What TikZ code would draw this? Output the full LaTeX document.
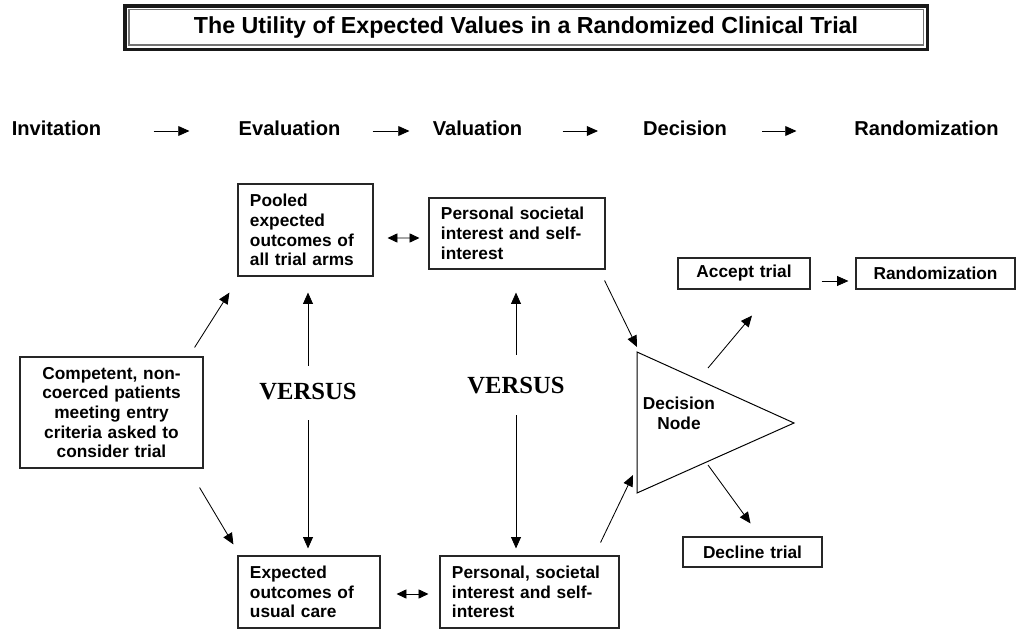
\documentclass[tikz,border=0pt]{standalone}
\usepackage{fontspec}
\setmainfont{Liberation Sans}
\newfontfamily\versusfont{Liberation Serif}
\usetikzlibrary{arrows.meta}

\begin{document}
\begin{tikzpicture}[x=0.025cm,y=-0.025cm,
	box/.style={draw=black!85,line width=0.8pt,inner xsep=0.3cm,inner ysep=0pt,align=left,
		font=\bfseries\fontsize{12.3}{14}\selectfont},
	hdr/.style={inner sep=0pt,font=\bfseries\fontsize{14.3}{17}\selectfont},
	vs/.style={inner sep=0pt,font=\versusfont\bfseries\fontsize{17.5}{20}\selectfont},
	arr/.style={-{Triangle[length=8pt,width=7pt]},line width=0.6pt},
	darr/.style={{Triangle[length=7pt,width=6.5pt]}-{Triangle[length=7pt,width=6.5pt]},line width=0.6pt}]
	\useasboundingbox (0,0) rectangle (1016,629);
	% title frame
	\draw[line width=2.5pt,black!90](125,5.8)rectangle(927.5,49.7);
	\draw[line width=1pt,black!55](129,9.8)rectangle(923.5,45);
	\node[font=\bfseries\fontsize{16.5}{20}\selectfont] (title) at (526,27.5) {The Utility of Expected Values in a Randomized Clinical Trial};
	% stages
	\node[hdr] (inv) at (56.5,128) {Invitation};
	\node[hdr] (eva) at (289.5,128) {Evaluation};
	\node[hdr] (val) at (477.5,128) {Valuation};
	\node[hdr] (dcs) at (685,128) {Decision};
	\node[hdr] (rnd) at (926.5,128) {Randomization};
	\draw[arr]([shift={(97,3)}]inv.center)--([shift={(-100,3)}]eva.center);
	\draw[arr]([shift={(83,3)}]eva.center)--([shift={(-68,3)}]val.center);
	\draw[arr]([shift={(85,3)}]val.center)--([shift={(-87,3)}]dcs.center);
	\draw[arr]([shift={(77,3)}]dcs.center)--([shift={(-130,3)}]rnd.center);
	% boxes
	\node[box,text width=2.775cm,minimum height=2.3cm] (pooled) at (305.5,230) {Pooled\\expected\\outcomes of\\all trial arms};
	\node[box,text width=3.8cm,minimum height=1.775cm] (persA) at (517,233.5) {Personal societal\\interest and self-\\interest};
	\node[box,text width=2.95cm,minimum height=1.8cm] (expct) at (309,592) {Expected\\outcomes of\\usual care};
	\node[box,text width=3.875cm,minimum height=1.8cm] (persB) at (529.5,592) {Personal, societal\\interest and self-\\interest};
	\node[box,align=center,text width=3.975cm,minimum height=2.775cm] (comp) at (111.5,412.5) {Competent, non-\\coerced patients\\meeting entry\\criteria asked to\\consider trial};
	\node[box,align=center,text width=2.7cm,minimum height=0.775cm] (accept) at (744,273.5) {Accept trial};
	\node[box,align=center,text width=3.375cm,minimum height=0.775cm] (rand) at (935.5,273.5) {Randomization};
	\node[box,align=center,text width=2.875cm,minimum height=0.75cm] (decline) at (752.5,552) {Decline trial};
	% decision node
	\draw[line width=0.7pt](637,352)coordinate(tA)--(794,423)coordinate(tR)--(637,493)coordinate(tB)--cycle;
	\node[align=center,font=\bfseries\fontsize{12.3}{14}\selectfont] (dec) at (679,413) {Decision\\Node};
	% versus
	\node[vs] (vsL) at (308,392) {VERSUS};
	\node[vs] (vsR) at (516,386) {VERSUS};
	\draw[arr,shorten >=0.4cm]([yshift=0.65cm]vsL.center)--(vsL |- pooled.south);
	\draw[arr,shorten >=0.175cm]([yshift=-0.7cm]vsL.center)--(vsL |- expct.north);
	\draw[arr,shorten >=0.575cm]([yshift=0.775cm]vsR.center)--(vsR |- persA.south);
	\draw[arr,shorten >=0.175cm]([yshift=-0.725cm]vsR.center)--(vsR |- persB.north);
	% connectors
	\draw[darr,shorten <=0.35cm,shorten >=0.225cm]([yshift=-0.2cm]pooled.east)--([yshift=-0.1125cm]persA.west);
	\draw[darr,shorten <=0.4cm,shorten >=0.275cm]([yshift=-0.05cm]expct.east)--([yshift=-0.05cm]persB.west);
	\draw[arr]([shift={(-9,-9)}]comp.north east)--([shift={(-8,16)}]pooled.south west);
	\draw[arr]([shift={(-4,19)}]comp.south east)--([shift={(-4,-11)}]expct.north west);
	\draw[arr]([shift={(-1,11)}]persA.south east)--([shift={(0,-5)}]tA);
	\draw[arr]([shift={(-19,-13)}]persB.north east)--([shift={(-4,-18)}]tB);
	\draw[arr]([shift={(-86,-55)}]tR)--([shift={(8,26)}]accept.south);
	\draw[arr]([shift={(-86,42)}]tR)--([shift={(-2,-13)}]decline.north);
	\draw[arr]([shift={(11,7.5)}]accept.east)--([shift={(-7,7.5)}]rand.west);
\end{tikzpicture}
\end{document}
